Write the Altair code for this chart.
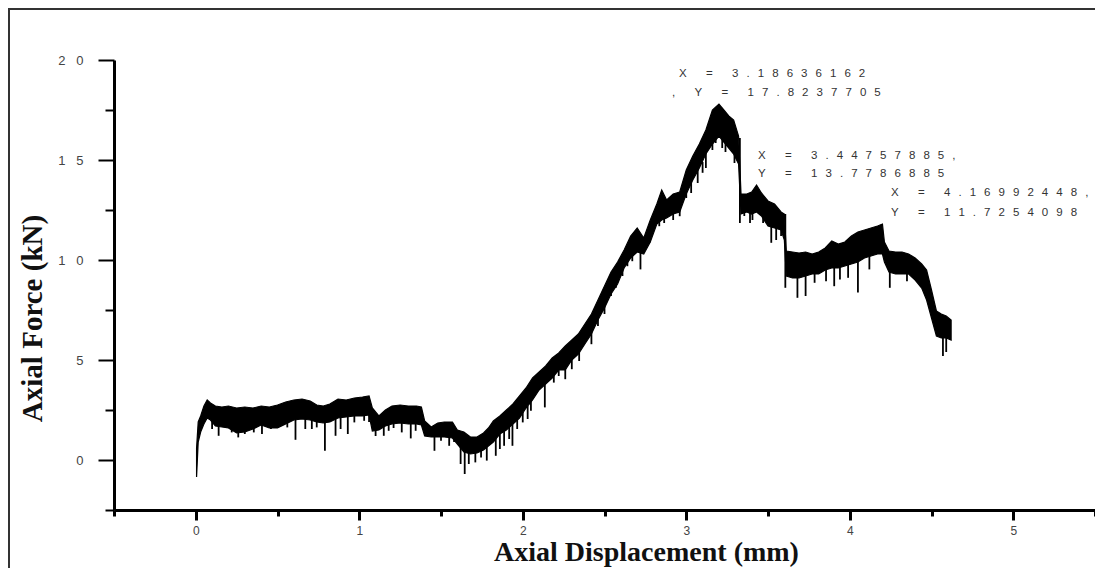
import altair as alt
import pandas as pd

# ---- data ----
band_x = [0.005, 0.015, 0.03, 0.05, 0.07, 0.09, 0.12, 0.16, 0.20, 0.25, 0.30, 0.35, 0.40, 0.45,
          0.50, 0.55, 0.60, 0.65, 0.70, 0.74, 0.78, 0.82, 0.87, 0.92, 0.97, 1.02, 1.06, 1.08,
          1.12, 1.16, 1.20, 1.25, 1.30, 1.35, 1.38, 1.40, 1.44, 1.48, 1.52, 1.57, 1.60, 1.64,
          1.68, 1.72, 1.76, 1.79, 1.82, 1.86, 1.90, 1.94, 1.98, 2.02, 2.06, 2.10, 2.14, 2.18,
          2.22, 2.26, 2.30, 2.34, 2.38, 2.42, 2.46, 2.50, 2.54, 2.58, 2.62, 2.66, 2.70, 2.74,
          2.78, 2.82, 2.85, 2.88, 2.92, 2.96, 3.00, 3.04, 3.08, 3.12, 3.16, 3.20, 3.23, 3.26,
          3.29, 3.32, 3.335, 3.37, 3.40, 3.43, 3.46, 3.50, 3.54, 3.58, 3.60, 3.612, 3.65, 3.69,
          3.73, 3.77, 3.81, 3.85, 3.89, 3.93, 3.97, 4.01, 4.05, 4.09, 4.13, 4.17, 4.20, 4.212,
          4.24, 4.28, 4.32, 4.36, 4.40, 4.44, 4.47, 4.50, 4.53, 4.56, 4.59, 4.62]
band_hi = [0.6, 1.9, 2.2, 2.7, 3.0, 2.85, 2.7, 2.65, 2.7, 2.6, 2.65, 2.6, 2.7, 2.65,
           2.75, 2.9, 3.0, 3.05, 2.95, 2.75, 2.7, 2.8, 3.05, 3.0, 3.1, 3.15, 3.2, 2.6,
           2.2, 2.5, 2.7, 2.75, 2.7, 2.7, 2.65, 1.95, 1.65, 1.85, 1.9, 1.9, 1.5, 1.4,
           1.15, 1.15, 1.35, 1.6, 1.95, 2.2, 2.5, 2.8, 3.2, 3.6, 4.1, 4.4, 4.7, 5.1,
           5.35, 5.7, 6.0, 6.3, 6.8, 7.3, 8.0, 8.7, 9.4, 9.9, 10.5, 11.2, 11.6, 11.1,
           12.0, 12.8, 13.5, 13.0, 13.3, 13.4, 14.5, 15.2, 15.8, 16.5, 17.5, 17.8, 17.5, 17.2,
           17.0, 16.2, 13.3, 13.3, 13.4, 13.75, 13.35, 12.95, 12.8, 12.4, 12.3, 10.45, 10.4, 10.35,
           10.4, 10.3, 10.4, 10.6, 10.95, 10.8, 10.9, 11.2, 11.4, 11.5, 11.6, 11.7, 11.8, 10.9,
           10.45, 10.4, 10.4, 10.3, 10.1, 9.8, 9.5, 8.5, 7.45, 7.3, 7.2, 7.0]
band_lo = [-0.85, 0.9, 1.4, 1.8, 2.1, 2.0, 1.7, 1.65, 1.6, 1.35, 1.4, 1.55, 1.75, 1.6,
           1.6, 1.8, 2.0, 2.05, 2.0, 1.9, 1.85, 1.9, 2.1, 2.15, 2.2, 2.2, 2.25, 1.45,
           1.5, 1.7, 1.8, 1.85, 1.8, 1.8, 1.75, 1.2, 1.15, 1.15, 1.15, 1.1, 0.8, 0.4,
           0.3, 0.35, 0.5, 0.7, 0.9, 1.3, 1.5, 1.8, 2.1, 2.6, 3.0, 3.5, 3.8, 4.1,
           4.5, 4.5, 5.0, 5.3, 5.8, 6.3, 7.0, 7.6, 8.3, 8.8, 9.6, 10.1, 10.4, 10.3,
           10.9, 11.8, 12.0, 12.1, 12.3, 12.4, 13.3, 14.0, 14.6, 15.3, 15.8, 16.2, 15.9, 15.6,
           15.3, 14.8, 12.3, 12.4, 12.3, 12.4, 12.2, 11.7, 11.6, 11.5, 11.0, 9.2, 9.1, 9.1,
           9.2, 9.3, 9.3, 9.5, 9.6, 9.6, 9.7, 9.8, 9.9, 10.1, 10.2, 10.3, 10.3, 9.9,
           9.4, 9.3, 9.3, 9.3, 9.0, 8.6, 8.0, 7.1, 6.2, 6.1, 6.1, 6.0]

spike_x = [0.10, 0.14, 0.19, 0.22, 0.26, 0.30, 0.355, 0.405, 0.46, 0.50, 0.56, 0.61, 0.67,
           0.71, 0.74, 0.79, 0.855, 0.886, 0.93, 0.97, 1.03, 1.06, 1.10, 1.15, 1.18, 1.21,
           1.26, 1.315, 1.345, 1.46, 1.50, 1.55, 1.58, 1.62, 1.645, 1.67, 1.71, 1.745, 1.78,
           1.835, 1.86, 1.886, 1.917, 1.937, 1.966, 2.0, 2.03, 2.05, 2.135, 2.19, 2.22, 2.26,
           2.30, 2.345, 2.42, 2.46, 2.50, 2.54, 2.57, 2.61, 2.64, 2.67, 2.72, 2.775, 2.835,
           2.865, 2.92, 2.96, 3.0, 3.03, 3.07, 3.10, 3.12, 3.16, 3.18, 3.22, 3.24, 3.295,
           3.328, 3.355, 3.39, 3.405, 3.47, 3.52, 3.55, 3.58, 3.606, 3.68, 3.73, 3.785,
           3.855, 3.905, 3.94, 3.99, 4.05, 4.12, 4.245, 4.35, 4.45, 4.57, 4.59]
spike_top = [2.1, 1.9, 1.8, 1.8, 1.6, 1.6, 1.7, 1.9, 1.8, 1.8, 1.9, 2.2, 2.2,
             2.2, 2.1, 2.0, 2.2, 2.3, 2.3, 2.4, 2.4, 2.4, 1.7, 1.8, 1.9, 2.0,
             2.0, 2.0, 2.0, 1.3, 1.3, 1.3, 1.2, 1.0, 0.6, 0.6, 0.5, 0.6, 0.8,
             1.1, 1.4, 1.6, 1.7, 1.9, 2.1, 2.4, 2.7, 3.0, 4.0, 4.4, 4.7, 4.8,
             5.2, 5.5, 6.5, 7.2, 7.9, 8.5, 8.9, 9.6, 10.1, 10.3, 10.5, 11.0, 12.1,
             12.3, 12.5, 12.6, 13.5, 14.0, 14.6, 14.9, 15.4, 16.0, 16.2, 16.2, 16.0, 15.5,
             16.1, 12.6, 12.5, 12.5, 12.4, 11.8, 11.7, 11.6, 12.3, 9.3, 9.4, 9.5,
             9.7, 9.8, 9.9, 10.0, 10.4, 10.6, 9.7, 9.4, 8.9, 6.3, 6.2]
spike_bot = [1.55, 1.21, 1.63, 1.38, 1.13, 1.3, 1.38, 1.3, 1.55, 1.63, 1.63, 1.01, 1.55,
             1.55, 1.63, 0.46, 1.21, 1.55, 1.3, 1.88, 1.96, 1.9, 1.2, 1.21, 1.46, 1.6,
             1.38, 1.08, 1.46, 0.46, 0.96, 0.71, 0.9, -0.2, -0.7, -0.2, -0.12, 0.13, -0.03,
             0.21, 0.55, 0.71, 1.05, 0.71, 1.55, 1.88, 2.05, 2.46, 2.63, 3.87, 4.2, 4.04,
             4.54, 4.95, 5.79, 6.7, 7.3, 8.2, 8.61, 9.2, 9.69, 9.94, 9.53, 10.86, 11.69,
             11.85, 12.0, 12.19, 13.1, 13.35, 13.85, 14.36, 14.6, 15.5, 15.85, 15.6, 15.4, 14.85,
             11.85, 12.2, 11.85, 12.0, 11.85, 10.86, 11.0, 11.2, 8.61, 8.11, 8.2, 8.86,
             8.94, 8.69, 9.03, 9.11, 8.38, 9.53, 8.61, 8.94, 8.53, 5.2, 5.4]

note_text = ["X = 3.18636162", ", Y = 17.8237705", "X = 3.44757885,", "Y = 13.7786885",
             "X = 4.16992448,", "Y = 11.7254098"]
note_x = [2.956, 2.913, 3.439, 3.439, 4.252, 4.252]
note_y = [19.3, 18.35, 15.2, 14.3, 13.35, 12.35]

x_major = [0, 1, 2, 3, 4, 5]
x_minor = [-0.5, 0.5, 1.5, 2.5, 3.5, 4.5, 5.5]
y_major = [0, 5, 10, 15, 20]
y_minor = [-2.5, 2.5, 7.5, 12.5, 17.5]

# ---- tables ----
band = pd.DataFrame({"x": band_x, "hi": band_hi, "lo": band_lo})
spikes = pd.DataFrame({"x": spike_x, "top": spike_top, "bot": spike_bot})
GAP = "\u2002\u2009"
notes = pd.DataFrame({"ax": note_x, "ay": note_y,
                      "label": [GAP.join(list(s)) for s in note_text]})
frame = pd.DataFrame({"k": [0]})

W, H = 981, 450
LABEL_FONT = "Liberation Sans"
TITLE_FONT = "Liberation Serif"

xs = alt.Scale(domain=[-0.5, 5.5], nice=False, zero=False)
ys = alt.Scale(domain=[-2.5, 20], nice=False, zero=False)

band_layer = alt.Chart(band).mark_area(color="black", stroke="black", strokeWidth=1.2).encode(
    x=alt.X("x:Q", scale=xs, axis=alt.Axis(
        orient="bottom", values=x_major, grid=False, format="d",
        domainWidth=3, domainColor="black", tickSize=10, tickWidth=3, tickColor="black",
        labelFont=LABEL_FONT, labelFontSize=12, labelColor="#444", labelPadding=5,
        title="Axial Displacement (mm)", titleFont=TITLE_FONT, titleFontSize=28,
        titleFontWeight="bold", titleColor="#111", titleX=532, titleY=50,
        titleAlign="center", titleBaseline="alphabetic")),
    y=alt.Y("hi:Q", scale=ys, axis=alt.Axis(
        orient="left", values=y_major, grid=False,
        domainWidth=3, domainColor="black", tickSize=16, tickWidth=2, tickColor="black",
        labelFont=LABEL_FONT, labelFontSize=13, labelColor="#444", labelPadding=15,
        labelExpr="join(split(datum.label, ''), '\u2002\u2004')",
        title="Axial Force (kN)", titleFont=TITLE_FONT, titleFontSize=29,
        titleFontWeight="bold", titleColor="#111", titleAngle=270, titleX=-73, titleY=258,
        titleAlign="center", titleBaseline="alphabetic")),
    y2="lo:Q",
)

spike_layer = alt.Chart(spikes).mark_rule(color="black", strokeWidth=1.8).encode(
    x=alt.X("x:Q", scale=xs, axis=alt.Axis(
        orient="bottom", values=x_minor, grid=False, domain=False, labels=False,
        tickSize=6, tickWidth=3, tickColor="black", title="")),
    y=alt.Y("bot:Q", scale=ys, axis=alt.Axis(
        orient="left", values=y_minor, grid=False, domain=False, labels=False,
        tickSize=9, tickWidth=2, tickColor="black", title="")),
    y2="top:Q",
)

note_layer = alt.Chart(notes).mark_text(
    align="left", baseline="middle", font=LABEL_FONT, fontSize=11.5, color="#333"
).encode(
    x=alt.X("ax:Q", scale=xs, axis=None),
    y=alt.Y("ay:Q", scale=ys, axis=None),
    text="label:N",
)

border_left = alt.Chart(frame).mark_rule(color="#333", strokeWidth=2).encode(
    x=alt.value(-105), y=alt.value(-51), y2=alt.value(H + 58))
border_top = alt.Chart(frame).mark_rule(color="#333", strokeWidth=2).encode(
    x=alt.value(-106), x2=alt.value(W), y=alt.value(-51))

chart = alt.layer(band_layer, spike_layer, note_layer, border_left, border_top).resolve_axis(
    x="independent", y="independent"
).properties(
    width=W, height=H,
    autosize=alt.AutoSizeParams(type="none"),
    padding={"left": 106, "top": 52, "right": 0, "bottom": 58},
    background="white",
).configure_view(strokeWidth=0)

chart.save("out.html", embed_options={"renderer": "svg", "actions": False})
